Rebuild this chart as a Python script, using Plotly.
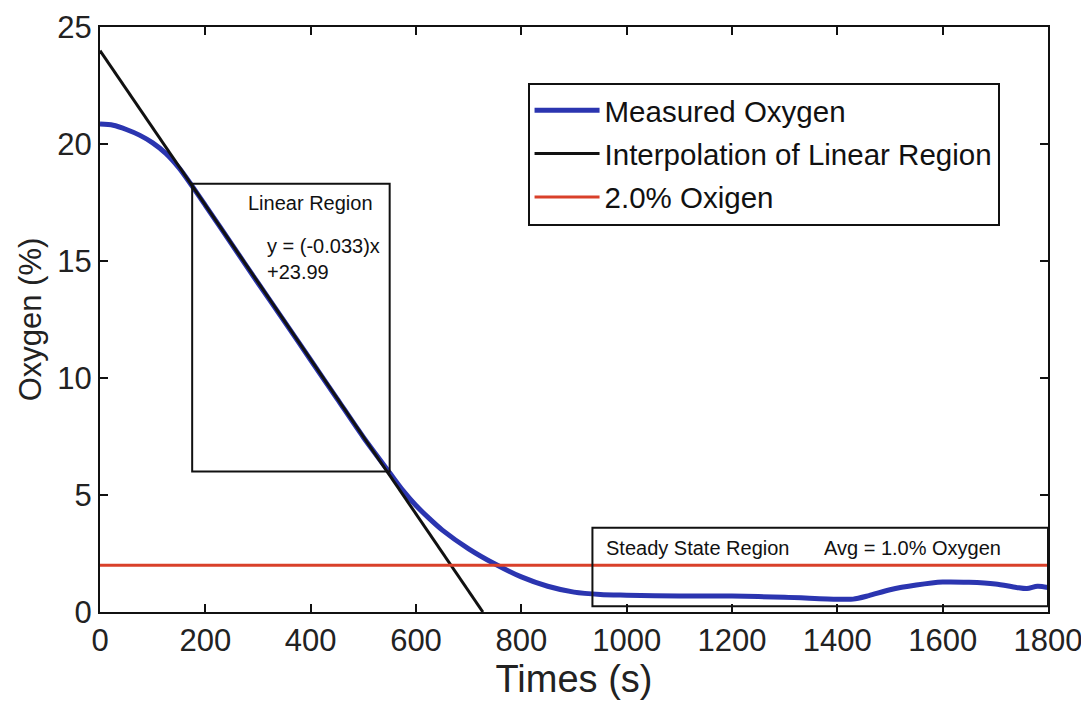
import plotly.graph_objects as go

# Measured oxygen (%) vs time (s)
time_s = [0, 25, 50, 75, 100, 125, 150, 175, 200, 250, 300, 350, 400, 450, 500, 550,
          575, 600, 625, 650, 700, 750, 800, 850, 900, 950, 1000, 1100, 1200, 1300, 1400, 1430,
          1460, 1500, 1550, 1600, 1650, 1700, 1740, 1760, 1780, 1800]
oxygen = [20.85, 20.8, 20.62, 20.38, 20.05, 19.6, 18.98, 18.2, 17.38, 15.72, 14.06, 12.42, 10.77, 9.12, 7.47, 5.95,
          5.2, 4.55, 4.0, 3.5, 2.7, 2.05, 1.5, 1.1, 0.85, 0.75, 0.72, 0.68, 0.68, 0.63, 0.55, 0.55,
          0.7, 0.95, 1.15, 1.28, 1.27, 1.2, 1.05, 1.0, 1.1, 1.05]

# Linear fit y = slope * x + intercept
slope = -0.033
intercept = 23.99
fit_x = [0, 727]
fit_y = [slope * x + intercept for x in fit_x]

# 2.0% threshold
thr_x = [0, 1800]
thr_y = [2.0, 2.0]

# Region boxes (data coords)
linear_box = dict(x0=175, x1=550, y0=6.0, y1=18.3)
steady_box = dict(x0=935, x1=1800, y0=0.25, y1=3.6)

x_ticks = [0, 200, 400, 600, 800, 1000, 1200, 1400, 1600, 1800]
y_ticks = [0, 5, 10, 15, 20, 25]

FONT = "Liberation Sans, Arial, sans-serif"

fig = go.Figure()
fig.add_trace(go.Scatter(x=time_s, y=oxygen, mode="lines", name="Measured Oxygen", legendgroup="a",
                         line=dict(color="#2b35b0", width=5, shape="spline", smoothing=0.8)))
fig.add_trace(go.Scatter(x=fit_x, y=fit_y, mode="lines", name="Interpolation of Linear Region",
                         legendgroup="b", line=dict(color="#111111", width=3)))
fig.add_trace(go.Scatter(x=thr_x, y=thr_y, mode="lines", name="2.0% Oxigen", legendgroup="c",
                         line=dict(color="#d9402a", width=3)))

for b in (linear_box, steady_box):
    fig.add_shape(type="rect", xref="x", yref="y", line=dict(color="#111111", width=2),
                  fillcolor="rgba(0,0,0,0)", **b)

ann_font = dict(size=20, color="#111", family=FONT)
fig.add_annotation(x=399, y=17.5, text="Linear Region", showarrow=False,
                   font=ann_font, xanchor="center", yanchor="middle")
fig.add_annotation(x=313, y=15.1, text="y = (-0.033)x<br>+23.99", showarrow=False, align="left",
                   font=ann_font, xanchor="left", yanchor="middle")
fig.add_annotation(x=957, y=2.75, text="Steady State Region", showarrow=False,
                   font=ann_font, xanchor="left", yanchor="middle")
fig.add_annotation(x=1371, y=2.75, text="Avg = 1.0% Oxygen", showarrow=False,
                   font=ann_font, xanchor="left", yanchor="middle")

axis_common = dict(showline=True, linecolor="#111", linewidth=2, mirror="ticks",
                   ticks="inside", ticklen=8, tickwidth=1.5, tickcolor="#111",
                   showgrid=False, zeroline=False, automargin=False,
                   ticklabeloverflow="allow",
                   tickfont=dict(size=31, color="#222", family=FONT))

fig.update_xaxes(range=[0, 1800], tickvals=x_ticks, **axis_common,
                 title=dict(text="Times (s)", font=dict(size=38, color="#222", family=FONT), standoff=6))
fig.update_yaxes(range=[0, 25], tickvals=y_ticks, **axis_common,
                 title=dict(text="Oxygen (%)", font=dict(size=31, color="#222", family=FONT), standoff=6))

# The page body adds an 8px offset, so the figure is sized 8px smaller in each direction
fig.update_layout(
    width=1081, height=705,
    margin=dict(l=92, r=41, t=19, b=101),
    plot_bgcolor="white", paper_bgcolor="white",
    font=dict(family=FONT, color="#111"),
    legend=dict(x=0.451, y=0.905, xanchor="left", yanchor="top",
                bordercolor="#111", borderwidth=2, bgcolor="white",
                font=dict(size=29.5, color="#111", family=FONT),
                itemwidth=65, tracegroupgap=2),
)

fig.write_html("out.html")
